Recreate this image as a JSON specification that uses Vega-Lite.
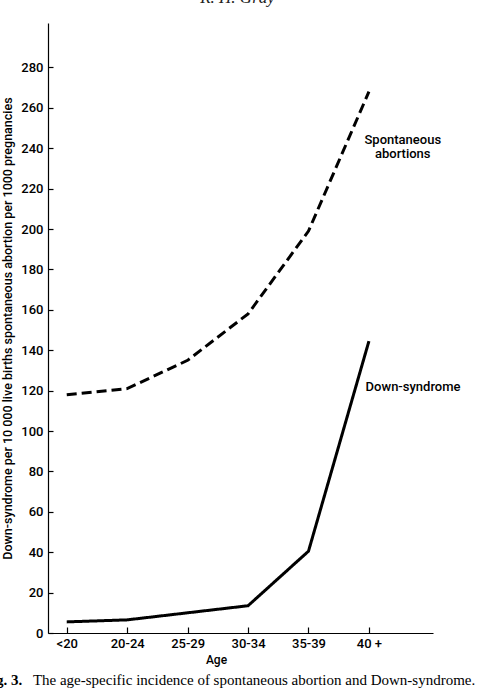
{
  "$schema": "https://vega.github.io/schema/vega-lite/v6.json",
  "width": 385,
  "height": 610,
  "autosize": {"type": "none"},
  "padding": {"left": 48, "top": 23, "right": 55, "bottom": 58},
  "background": "white",
  "title": {"text": "R. H. Gray", "font": "Liberation Serif", "fontStyle": "italic", "fontWeight": "normal", "fontSize": 17, "color": "#222", "anchor": "middle", "frame": "group", "offset": 16, "dx": -3},
  "config": {"view": {"stroke": null}, "font": "Roboto"},
  "datasets": {
    "series": [
      {"age": 0, "series": "Spontaneous abortions", "value": 118},
      {"age": 1, "series": "Spontaneous abortions", "value": 121},
      {"age": 2, "series": "Spontaneous abortions", "value": 135},
      {"age": 3, "series": "Spontaneous abortions", "value": 158},
      {"age": 4, "series": "Spontaneous abortions", "value": 199},
      {"age": 5, "series": "Spontaneous abortions", "value": 268},
      {"age": 0, "series": "Down-syndrome", "value": 5.5},
      {"age": 1, "series": "Down-syndrome", "value": 6.5},
      {"age": 2, "series": "Down-syndrome", "value": 10},
      {"age": 3, "series": "Down-syndrome", "value": 13.5},
      {"age": 4, "series": "Down-syndrome", "value": 40.5},
      {"age": 5, "series": "Down-syndrome", "value": 144.5}
    ],
    "labels": [
      {"age": 5.56, "value": 244, "label": "Spontaneous\nabortions"},
      {"age": 5.73, "value": 121.8, "label": "Down-syndrome"}
    ],
    "captionFig": [
      {"age": -1.17, "value": -25.5, "label": "g. 3."}
    ],
    "caption": [
      {"age": -0.56, "value": -25.5, "label": "The age-specific incidence of spontaneous abortion and Down-syndrome."}
    ]
  },
  "layer": [
    {
      "data": {"name": "series"},
      "mark": {"type": "line", "strokeWidth": 3, "color": "black", "strokeCap": "butt"},
      "encoding": {
        "x": {
          "field": "age", "type": "quantitative",
          "scale": {"domain": [-0.31, 6.06], "nice": false, "zero": false},
          "axis": {
            "title": "Age", "values": [0, 1, 2, 3, 4, 5],
            "labelExpr": "['<20','20-24','25-29','30-34','35-39','40 +'][datum.value]",
            "grid": false, "domainColor": "black", "domainWidth": 1.2,
            "tickColor": "black", "tickSize": -6, "tickWidth": 1.2,
            "labelPadding": 10, "labelFontSize": 13, "labelColor": "black",
            "labelFont": "Roboto", "labelFontWeight": 500,
            "titleFont": "Roboto", "titleFontSize": 12, "titleColor": "black", "titleFontWeight": 500,
            "titleX": 168, "titlePadding": 4
          }
        },
        "y": {
          "field": "value", "type": "quantitative",
          "scale": {"domain": [0, 302], "nice": false, "zero": true},
          "axis": {
            "title": "Down-syndrome per 10 000 live births   spontaneous abortion per 1000 pregnancies",
            "values": [0, 20, 40, 60, 80, 100, 120, 140, 160, 180, 200, 220, 240, 260, 280],
            "grid": false, "domainColor": "black", "domainWidth": 1.2,
            "tickColor": "black", "tickSize": -5, "tickWidth": 1.2,
            "labelPadding": 10, "labelFontSize": 13, "labelColor": "black",
            "labelFont": "Roboto", "labelFontWeight": 500,
            "titleFont": "Roboto", "titleFontSize": 12.5, "titleColor": "black", "titleFontWeight": 500,
            "titlePadding": 6
          }
        },
        "strokeDash": {
          "field": "series", "type": "nominal",
          "scale": {"domain": ["Spontaneous abortions", "Down-syndrome"], "range": [[10, 5], [1, 0]]},
          "legend": null
        }
      }
    },
    {
      "data": {"name": "labels"},
      "mark": {"type": "text", "fontSize": 13, "font": "Roboto", "fontWeight": 500, "color": "black", "align": "center", "baseline": "middle", "lineBreak": "\n", "lineHeight": 14},
      "encoding": {
        "x": {"field": "age", "type": "quantitative"},
        "y": {"field": "value", "type": "quantitative"},
        "text": {"field": "label"}
      }
    },
    {
      "data": {"name": "captionFig"},
      "mark": {"type": "text", "fontSize": 15, "font": "Liberation Serif", "fontWeight": "bold", "color": "black", "align": "left", "baseline": "alphabetic"},
      "encoding": {
        "x": {"field": "age", "type": "quantitative"},
        "y": {"field": "value", "type": "quantitative"},
        "text": {"field": "label"}
      }
    },
    {
      "data": {"name": "caption"},
      "mark": {"type": "text", "fontSize": 15, "font": "Liberation Serif", "color": "black", "align": "left", "baseline": "alphabetic"},
      "encoding": {
        "x": {"field": "age", "type": "quantitative"},
        "y": {"field": "value", "type": "quantitative"},
        "text": {"field": "label"}
      }
    }
  ]
}
